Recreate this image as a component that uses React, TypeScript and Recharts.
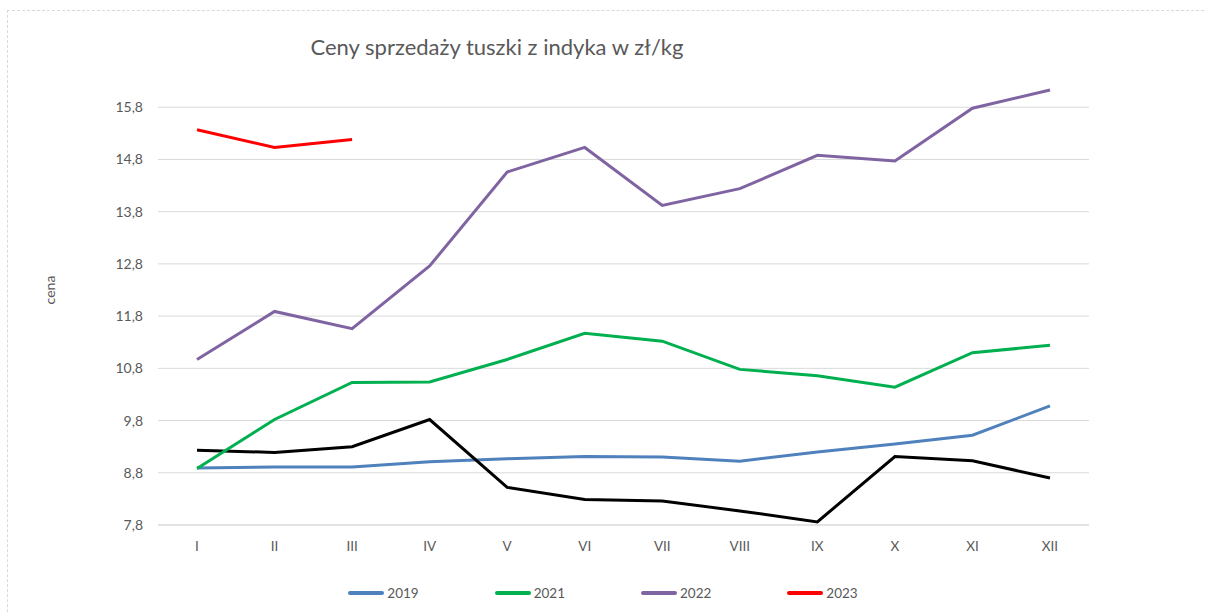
import { LineChart, Line, XAxis, YAxis, CartesianGrid, Legend } from 'recharts';

const months = ['I', 'II', 'III', 'IV', 'V', 'VI', 'VII', 'VIII', 'IX', 'X', 'XI', 'XII'];
const yTicks = [7.8, 8.8, 9.8, 10.8, 11.8, 12.8, 13.8, 14.8, 15.8];

const prices2019 = [8.89, 8.91, 8.91, 9.01, 9.07, 9.11, 9.1, 9.02, 9.2, 9.35, 9.52, 10.08];
// black line, no legend entry in the original
const prices2020 = [9.23, 9.19, 9.3, 9.82, 8.52, 8.29, 8.26, 8.07, 7.86, 9.11, 9.03, 8.7];
const prices2021 = [8.88, 9.82, 10.53, 10.54, 10.97, 11.47, 11.32, 10.78, 10.66, 10.44, 11.1, 11.24];
const prices2022 = [10.97, 11.89, 11.56, 12.76, 14.56, 15.03, 13.92, 14.24, 14.88, 14.77, 15.78, 16.13];
const prices2023 = [15.37, 15.03, 15.18];

const data = months.map((m, i) => ({
  month: m,
  y2019: prices2019[i],
  y2020: prices2020[i],
  y2021: prices2021[i],
  y2022: prices2022[i],
  y2023: i < prices2023.length ? prices2023[i] : null,
}));

const FONT = 'Lato, "Open Sans", sans-serif';
const TEXT = '#595959';

const fmt = (v: number) => v.toFixed(1).replace('.', ',');

const LegendContent = ({ payload }: any) => (
  <div style={{ display: 'flex', justifyContent: 'center', gap: 76, fontFamily: FONT, fontSize: 13.5, color: TEXT }}>
    {(payload || [])
      .filter((p: any) => p.type !== 'none' && p.dataKey !== 'y2020')
      .map((p: any) => (
        <div key={p.value} style={{ display: 'flex', alignItems: 'center', gap: 3 }}>
          <span style={{ display: 'inline-block', width: 36, height: 4, borderRadius: 2, background: p.color }} />
          <span>{p.value}</span>
        </div>
      ))}
  </div>
);

export default function App() {
  return (
    <div style={{ position: 'fixed', left: 0, top: 0, width: 1206, height: 614, overflow: 'hidden', background: '#fff' }}>
      <div style={{ position: 'absolute', left: 7, top: 10, width: 1300, height: 700, border: '1px dashed #d9d9d9' }} />
      <div style={{ position: 'absolute', left: 0, width: 994, top: 33, textAlign: 'center', fontFamily: FONT, fontSize: 22, color: TEXT }}>
        Ceny sprzedaży tuszki z indyka w zł/kg
      </div>
      <div style={{ position: 'absolute', left: 0, top: 0 }}>
        <LineChart width={1206} height={614} data={data} margin={{ top: 55, right: 117, left: 0, bottom: 59 }}>
          <CartesianGrid vertical={false} stroke="#d9d9d9" horizontalValues={yTicks} />
          <XAxis
            dataKey="month"
            height={30}
            padding={{ left: 39, right: 39 }}
            tickLine={false}
            axisLine={{ stroke: '#d9d9d9' }}
            tickMargin={10}
            tick={{ fill: TEXT, fontSize: 13.5, fontFamily: FONT }}
          />
          <YAxis
            width={158}
            domain={[7.8, 16.8]}
            ticks={yTicks}
            interval={0}
            tickFormatter={fmt}
            axisLine={false}
            tickLine={false}
            tickMargin={9}
            tick={{ fill: TEXT, fontSize: 14, fontFamily: FONT }}
            label={{ value: 'cena', angle: -90, position: 'insideLeft', offset: 50, style: { textAnchor: 'middle', fill: TEXT, fontSize: 14, fontFamily: FONT } }}
          />
          <Legend
            verticalAlign="middle"
            align="center"
            wrapperStyle={{ top: 585, left: 0, width: 1206 }}
            content={<LegendContent />}
          />
          <Line dataKey="y2019" name="2019" stroke="#4f81bd" strokeWidth={3} dot={false} isAnimationActive={false} />
          <Line dataKey="y2020" name="2020" legendType="none" stroke="#000000" strokeWidth={3} dot={false} isAnimationActive={false} />
          <Line dataKey="y2021" name="2021" stroke="#00b050" strokeWidth={3} dot={false} isAnimationActive={false} />
          <Line dataKey="y2022" name="2022" stroke="#8064a2" strokeWidth={3} dot={false} isAnimationActive={false} />
          <Line dataKey="y2023" name="2023" stroke="#ff0000" strokeWidth={3} dot={false} isAnimationActive={false} />
        </LineChart>
      </div>
    </div>
  );
}
